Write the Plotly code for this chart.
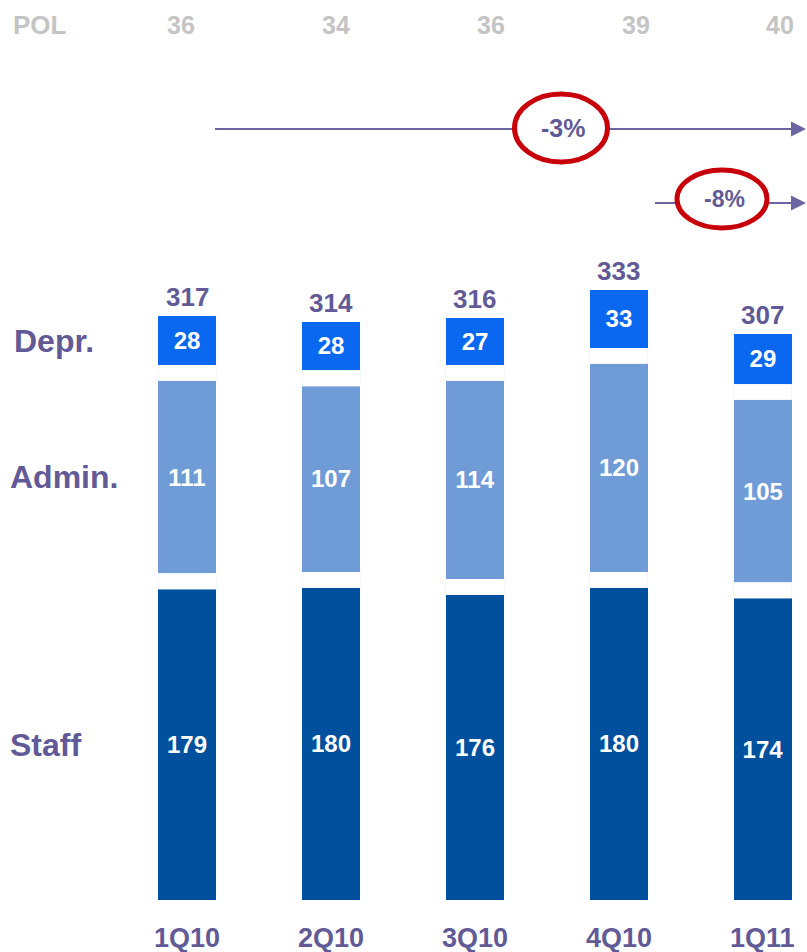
from plotly import graph_objs as go

# Datos
trimestres = ["1Q10", "2Q10", "3Q10", "4Q10", "1Q11"]
staff = [179, 180, 176, 180, 174]
admin = [111, 107, 114, 120, 105]
depr = [28, 28, 27, 33, 29]
totales = [317, 314, 316, 333, 307]
pol = [36, 34, 36, 39, 40]
variaciones = ["-3%", "-8%"]

# Estilo
W, H = 807, 952
GAP = 9.2  # hueco blanco entre segmentos, en unidades del eje
FUENTE = "Liberation Sans, Arial, sans-serif"
MORADO = "#625a96"
GRIS = "#c4c4c4"
FLECHA = "#6a64a0"
ROJO = "#c8000a"
POL_X = [181, 336, 491, 636, 780]  # posición horizontal (px) de la fila POL


def px(x):
    return x / W


def py(y):
    return 1 - y / H


fig = go.Figure()


def barra(valores, color, nombre):
    fig.add_trace(
        go.Bar(
            x=trimestres,
            y=valores,
            name=nombre,
            marker_color=color,
            marker_line_width=0,
            width=0.403,
            text=[f"<b>{v}</b>" for v in valores],
            textposition="inside",
            insidetextanchor="middle",
            textangle=0,
            textfont={"family": FUENTE, "size": 24, "color": "white"},
            hoverinfo="x+y+name",
            showlegend=False,
        )
    )


def hueco():
    fig.add_trace(
        go.Bar(
            x=trimestres,
            y=[GAP] * len(trimestres),
            marker_color="rgba(0,0,0,0)",
            width=0.403,
            hoverinfo="skip",
            showlegend=False,
        )
    )


barra(staff, "#00509e", "Staff")
hueco()
barra(admin, "#6f9bd7", "Admin.")
hueco()
barra(depr, "#0a68f0", "Depr.")

anotaciones = []

# Totales sobre cada barra
for t, s, a, d, tot in zip(trimestres, staff, admin, depr, totales):
    anotaciones.append(dict(
        x=t, y=s + a + d + 2 * GAP, text=f"<b>{tot}</b>", showarrow=False,
        yanchor="bottom", yshift=2,
        font={"family": FUENTE, "size": 26, "color": MORADO},
    ))

# Etiquetas del eje x
for t in trimestres:
    anotaciones.append(dict(
        x=t, y=0, text=f"<b>{t}</b>", showarrow=False,
        yanchor="middle", yshift=-38,
        font={"family": FUENTE, "size": 27, "color": MORADO},
    ))

# Fila POL
anotaciones.append(dict(
    x=px(11), y=py(25), xref="paper", yref="paper",
    xanchor="left", yanchor="middle",
    text="<b>POL</b>", showarrow=False,
    font={"family": FUENTE, "size": 26, "color": GRIS},
))
for xp, p in zip(POL_X, pol):
    anotaciones.append(dict(
        x=px(xp), xref="paper", y=py(25), yref="paper",
        xanchor="center", yanchor="middle",
        text=f"<b>{p}</b>", showarrow=False,
        font={"family": FUENTE, "size": 25, "color": GRIS},
    ))

# Etiquetas de la izquierda, a la altura de cada segmento de la primera barra
centros = [
    ("Depr.", staff[0] + admin[0] + 2 * GAP + depr[0] / 2, 12),
    ("Admin.", staff[0] + GAP + admin[0] / 2, 8),
    ("Staff", staff[0] / 2, 8),
]
for nombre, yc, xl in centros:
    anotaciones.append(dict(
        x=px(xl), xref="paper", y=yc, xanchor="left", yanchor="middle",
        text=f"<b>{nombre}</b>", showarrow=False,
        font={"family": FUENTE, "size": 32, "color": MORADO},
    ))

# Flechas y variaciones
flechas = [
    (215, 129, 561, 128, 98, 73, 25),
    (655, 203, 722, 199, 95, 63, 23),
]
formas = []
for x0, yl, cx, cy, ew, eh, fs in flechas:
    formas.append(dict(
        type="line", xref="paper", yref="paper",
        x0=px(x0), x1=px(798), y0=py(yl), y1=py(yl),
        line={"color": FLECHA, "width": 2}, layer="above",
    ))
    anotaciones.append(dict(
        x=px(806), y=py(yl), xref="paper", yref="paper", ax=-16, ay=0,
        text="", showarrow=True, arrowhead=2, arrowsize=1.5, arrowwidth=2,
        arrowcolor=FLECHA,
    ))
for (x0, yl, cx, cy, ew, eh, fs), var in zip(flechas, variaciones):
    formas.append(dict(
        type="circle", xref="paper", yref="paper",
        x0=px(cx - ew / 2 + 2.5), x1=px(cx + ew / 2 - 2.5),
        y0=py(cy - eh / 2 + 2.5), y1=py(cy + eh / 2 - 2.5),
        line={"color": ROJO, "width": 5}, fillcolor="white", layer="above",
    ))
    anotaciones.append(dict(
        x=px(cx + 2), y=py(cy), xref="paper", yref="paper",
        xanchor="center", yanchor="middle",
        text=f"<b>{var}</b>", showarrow=False,
        font={"family": FUENTE, "size": fs, "color": MORADO},
    ))

escala = 900 / 1.735  # valor en la parte superior del lienzo

fig.update_layout(
    width=W,
    height=H,
    barmode="stack",
    margin={"l": 0, "r": 0, "t": 0, "b": 0},
    plot_bgcolor="white",
    paper_bgcolor="white",
    xaxis={"range": [-1.299, 4.306], "visible": False, "type": "category"},
    yaxis={"range": [-52 / 1.735, escala], "visible": False},
    annotations=anotaciones,
    shapes=formas,
)

fig.write_html(
    "out.html",
    config={"displayModeBar": False},
    post_script="document.body.style.margin='0px';",
)
